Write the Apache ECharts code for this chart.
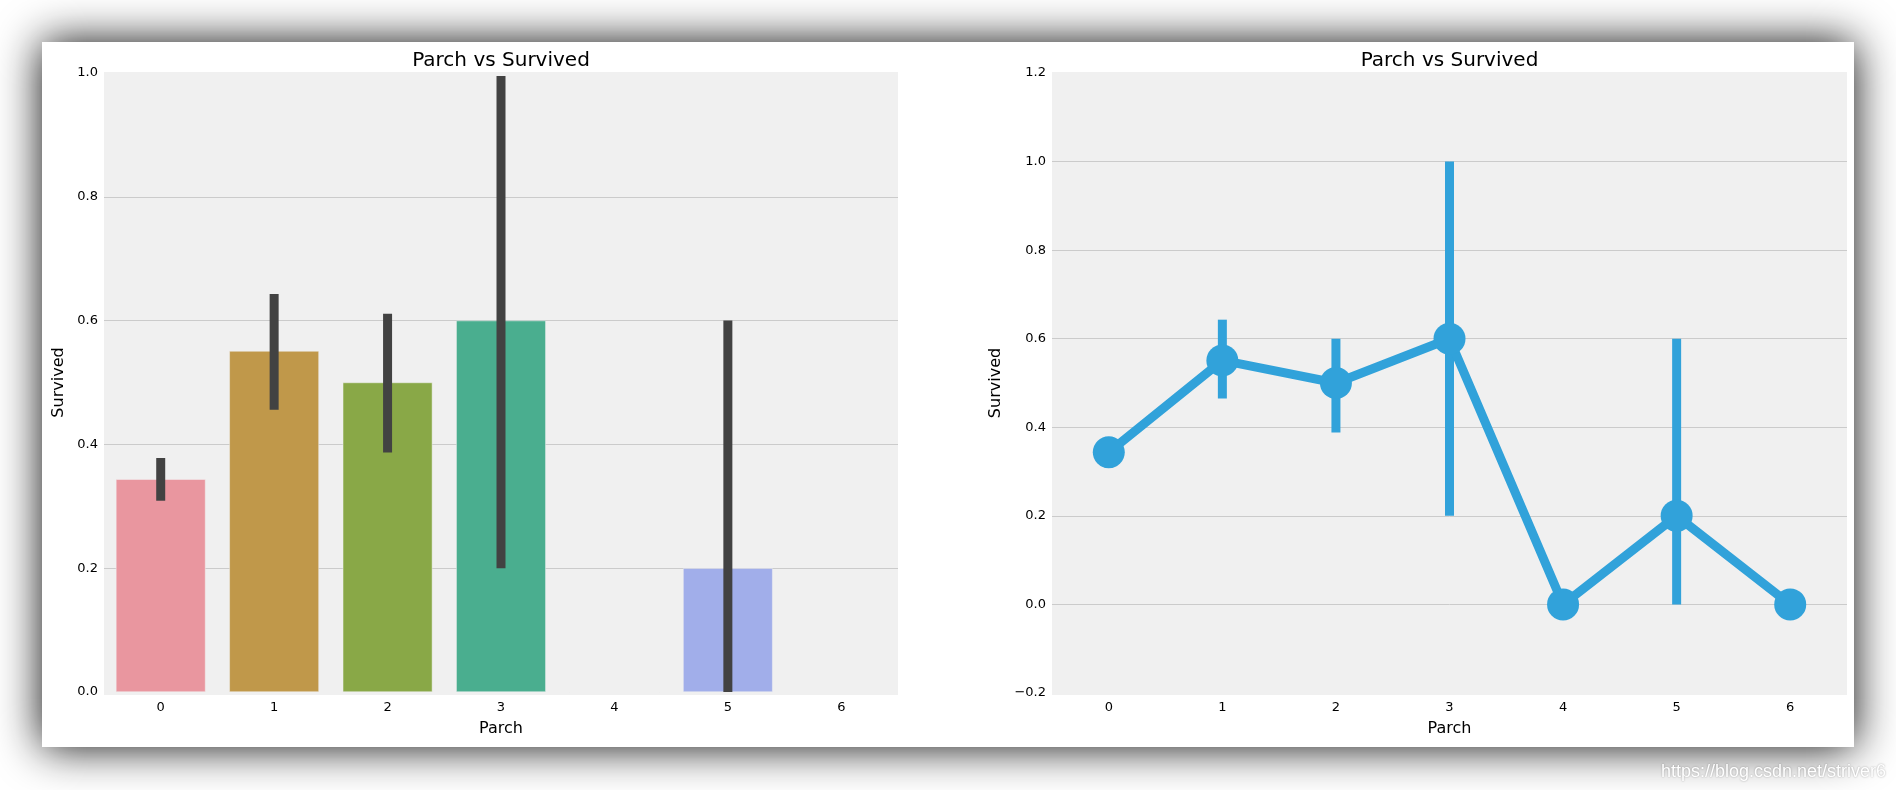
<!DOCTYPE html>
<html>
<head>
<meta charset="utf-8">
<script src="https://cdn.jsdelivr.net/npm/echarts@6/dist/echarts.min.js"></script>
<style>
  html, body { margin: 0; padding: 0; background: #ffffff; }
  #chart { width: 1896px; height: 790px; }
</style>
</head>
<body>
<div id="chart"></div>
<script>
// ---- data ----
const categories = ['0', '1', '2', '3', '4', '5', '6'];
const survivedMean = [0.3437, 0.5509, 0.5, 0.6, 0, 0.2, 0];
const barCiLow  = [0.309, 0.456, 0.387, 0.2, null, 0.0, null];
const barCiHigh = [0.378, 0.643, 0.611, 0.995, null, 0.6, null];
const pointCiLow  = [0.309, 0.465, 0.388, 0.2, null, 0.0, null];
const pointCiHigh = [0.378, 0.643, 0.6, 1.0, null, 0.6, null];
const barColors = ['#e9969f', '#c0984a', '#89a847', '#4aae8f', '#7fa6e0', '#a1aeea', '#d59ae6'];
const titleText = 'Parch vs Survived';
const xName = 'Parch';
const yName = 'Survived';
const watermark = 'https://blog.csdn.net/striver6';

const FONT = 'DejaVu Sans';
const fmt = v => v.toFixed(1).replace('-', '\u2212');

function ciData(lo, hi) {
  const out = [];
  for (let i = 0; i < lo.length; i++) {
    if (lo[i] !== null && hi[i] !== null) out.push([i, lo[i], hi[i]]);
  }
  return out;
}
function errRender(color) {
  return function (params, api) {
    const p1 = api.coord([api.value(0), api.value(1)]);
    const p2 = api.coord([api.value(0), api.value(2)]);
    return {
      type: 'line',
      shape: { x1: p1[0], y1: p1[1], x2: p2[0], y2: p2[1] },
      style: { stroke: color, lineWidth: 9, lineCap: 'butt' }
    };
  };
}

const chart = echarts.init(document.getElementById('chart'), null, { renderer: 'canvas' });

const axisCommonX = {
  type: 'category',
  data: categories,
  boundaryGap: true,
  axisLine: { show: false },
  axisTick: { show: false },
  splitLine: { show: false },
  name: xName,
  nameLocation: 'middle',
  nameTextStyle: { fontFamily: FONT, fontSize: 16, color: '#000' },
  axisLabel: { fontFamily: FONT, fontSize: 13, color: '#000' }
};
const axisCommonY = {
  type: 'value',
  interval: 0.2,
  axisLine: { show: false },
  axisTick: { show: false },
  name: yName,
  nameLocation: 'middle',
  nameRotate: 90,
  nameTextStyle: { fontFamily: FONT, fontSize: 16, color: '#000' },
  splitLine: { show: true, showMinLine: false, showMaxLine: false, lineStyle: { color: '#cbcbcb', width: 1 } },
  axisLabel: { fontFamily: FONT, fontSize: 13, color: '#000', margin: 6, formatter: fmt }
};

const option = {
  backgroundColor: '#ffffff',
  animation: false,
  graphic: [
    { type: 'rect', z: -10, shape: { x: 42, y: 42, width: 1812, height: 705 },
      style: { fill: '#ffffff', shadowBlur: 42, shadowColor: 'rgba(0,0,0,0.95)', shadowOffsetX: 0, shadowOffsetY: 0 } },
    { type: 'rect', z: -9, shape: { x: 104, y: 72, width: 794, height: 623 }, style: { fill: '#f0f0f0' } },
    { type: 'rect', z: -9, shape: { x: 1052, y: 72, width: 795, height: 623 }, style: { fill: '#f0f0f0' } },
    { type: 'text', z: 10, x: 501, y: 51, style: { text: titleText, fontFamily: FONT, fontSize: 20, fill: '#000', align: 'center', verticalAlign: 'top' } },
    { type: 'text', z: 10, x: 1449.5, y: 51, style: { text: titleText, fontFamily: FONT, fontSize: 20, fill: '#000', align: 'center', verticalAlign: 'top' } },
    { type: 'text', z: 10, x: 1886, y: 772, style: { text: watermark, fontFamily: 'Liberation Sans', fontSize: 18, fill: '#ffffff', align: 'right', verticalAlign: 'middle', textShadowColor: 'rgba(0,0,0,0.35)', textShadowBlur: 2 } }
  ],
  grid: [
    { left: 104, top: 73, width: 794, height: 619, containLabel: false },
    { left: 1052, top: 73, width: 795, height: 620, containLabel: false }
  ],
  xAxis: [
    Object.assign({}, axisCommonX, { gridIndex: 0, nameGap: 29, axisLabel: Object.assign({}, axisCommonX.axisLabel, { margin: 9 }) }),
    Object.assign({}, axisCommonX, { gridIndex: 1, nameGap: 28, axisLabel: Object.assign({}, axisCommonX.axisLabel, { margin: 8 }) })
  ],
  yAxis: [
    Object.assign({}, axisCommonY, { gridIndex: 0, min: 0, max: 1.0, nameGap: 37 }),
    Object.assign({}, axisCommonY, { gridIndex: 1, min: -0.2, max: 1.2, nameGap: 48 })
  ],
  series: [
    {
      type: 'bar',
      xAxisIndex: 0, yAxisIndex: 0,
      barWidth: '79%',
      data: survivedMean.map((v, i) => ({ value: v, itemStyle: { color: barColors[i] } })),
      itemStyle: { borderColor: '#f0f0f0', borderWidth: 0.5 },
      z: 2
    },
    {
      type: 'custom',
      xAxisIndex: 0, yAxisIndex: 0,
      renderItem: errRender('#424242'),
      data: ciData(barCiLow, barCiHigh),
      z: 3
    },
    {
      type: 'custom',
      xAxisIndex: 1, yAxisIndex: 1,
      renderItem: errRender('#31a2da'),
      data: ciData(pointCiLow, pointCiHigh),
      z: 3
    },
    {
      type: 'line',
      xAxisIndex: 1, yAxisIndex: 1,
      data: survivedMean,
      symbol: 'circle',
      symbolSize: 32,
      lineStyle: { color: '#31a2da', width: 9 },
      itemStyle: { color: '#31a2da' },
      z: 4
    }
  ]
};
chart.setOption(option);
</script>
</body>
</html>
